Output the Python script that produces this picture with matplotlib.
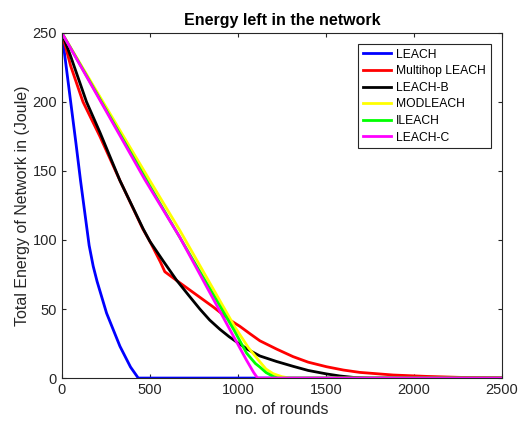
import numpy as np
import matplotlib
matplotlib.use('Agg')
import matplotlib.pyplot as plt

plt.rcParams['font.family'] = ['Liberation Sans', 'DejaVu Sans']

# 각 프로토콜의 (라운드, 남은 에너지) 값 - 그림에서 읽은 값
leach_x = [0, 40, 80, 106, 131, 155, 178, 200, 254, 330, 390, 434, 2500]
leach_y = [250, 210, 170, 143, 119, 96, 81, 70, 47, 23, 8, 0, 0]

multihop_x = [0, 50, 120, 216, 330, 460, 500, 560, 585, 670, 784, 860, 955, 1011, 1070, 1125,
              1220, 1314, 1400, 1504, 1600, 1693, 1883, 2072, 2261, 2500]
multihop_y = [250, 226, 200, 175, 143, 108, 99, 84, 77, 69, 58.5, 51.5, 42, 37.5, 32, 27,
              21, 15.5, 11.5, 8.2, 5.8, 4.1, 2.2, 1.2, 0.5, 0.2]

leachb_x = [0, 50, 140, 216, 330, 462, 500, 580, 651, 720, 784, 840, 898, 950, 1000, 1060,
            1125, 1220, 1314, 1400, 1504, 1580, 1655, 1750, 2500]
leachb_y = [250, 233, 200, 178, 143, 108, 99, 84, 71, 60, 50, 42, 35.3, 30, 25.5, 20.5,
            16, 12, 8.5, 5.5, 3, 1.5, 0.5, 0, 0]

modleach_x = [0, 500, 670, 983, 1060, 1125, 1160, 1200, 1250, 1295, 2500]
modleach_y = [250, 143, 107, 37, 22, 11.8, 6.5, 3.2, 1, 0, 0]

ileach_x = [0, 500, 977, 1050, 1100, 1125, 1160, 1200, 1225, 2500]
ileach_y = [250, 139, 35, 18, 10.5, 8, 4, 1.2, 0, 0]

leachc_x = [0, 470, 670, 955, 1049, 1090, 1112, 2500]
leachc_y = [250, 144, 102, 35, 13, 4, 0, 0]

fig = plt.figure(figsize=(5.2, 4.21), dpi=100)
ax = fig.add_axes([0.119, 0.102, 0.846, 0.820])

lw = 2
ax.plot(leach_x, leach_y, color='#0000ff', lw=lw, label='LEACH')
ax.plot(multihop_x, multihop_y, color='#ff0000', lw=lw, label='Multihop LEACH')
ax.plot(leachb_x, leachb_y, color='#000000', lw=lw, label='LEACH-B')
ax.plot(modleach_x, modleach_y, color='#ffff00', lw=lw, label='MODLEACH')
ax.plot(ileach_x, ileach_y, color='#00ff00', lw=lw, label='ILEACH')
ax.plot(leachc_x, leachc_y, color='#ff00ff', lw=lw, label='LEACH-C')

ax.set_xlim(0, 2500)
ax.set_ylim(0, 250)
ax.set_xticks(np.arange(0, 2501, 500))
ax.set_yticks(np.arange(0, 251, 50))

gray = '#262626'
ax.tick_params(direction='in', top=True, right=True, labelsize=10.5, colors=gray, length=3)
for s in ax.spines.values():
    s.set_color(gray)
    s.set_linewidth(0.8)

ax.set_title('Energy left in the network', fontsize=11.5, fontweight='bold', color='black', pad=6)
ax.set_xlabel('no. of rounds', fontsize=11.5, color=gray)
ax.set_ylabel('Total Energy of Network in (Joule)', fontsize=11.5, color=gray, labelpad=2)

leg = ax.legend(loc='upper right', fontsize=8.7, fancybox=False, framealpha=1,
                edgecolor=gray, handlelength=2.3, handletextpad=0.45,
                borderaxespad=0.9, labelspacing=0.38, borderpad=0.4)
leg.get_frame().set_linewidth(0.8)

fig.savefig('out.png', dpi=100)
